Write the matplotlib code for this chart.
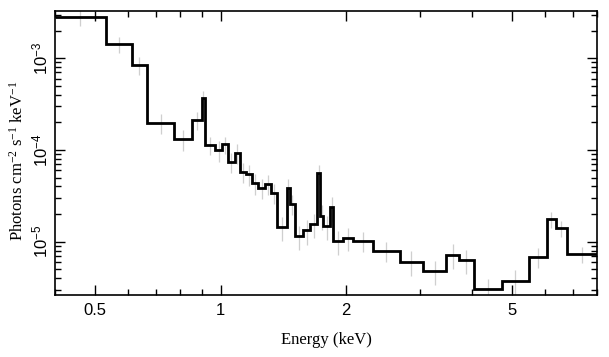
import numpy as np
import matplotlib
matplotlib.use("Agg")
import matplotlib.pyplot as plt
from matplotlib.ticker import FixedLocator, NullFormatter, LogLocator

# bin edges (keV) and unfolded flux per bin (photons cm^-2 s^-1 keV^-1)
edges = [0.40, 0.529, 0.611, 0.664, 0.774, 0.855, 0.900, 0.917, 0.969, 1.008,
         1.039, 1.080, 1.113, 1.148, 1.189, 1.231, 1.275, 1.318, 1.365, 1.442,
         1.464, 1.505, 1.579, 1.641, 1.702, 1.735, 1.761, 1.828, 1.861, 1.965,
         2.075, 2.319, 2.687, 3.056, 3.477, 3.728, 4.050, 4.727, 5.488, 6.060,
         6.361, 6.768, 8.0]
flux = [2.84e-3, 1.43e-3, 8.45e-4, 1.99e-4, 1.31e-4, 2.12e-4, 3.69e-4, 1.135e-4,
        9.93e-5, 1.148e-4, 7.40e-5, 9.27e-5, 5.75e-5, 5.43e-5, 4.33e-5, 3.88e-5,
        4.26e-5, 3.42e-5, 1.445e-5, 3.82e-5, 2.58e-5, 1.153e-5, 1.33e-5, 1.56e-5,
        5.54e-5, 1.915e-5, 1.48e-5, 2.37e-5, 1.018e-5, 1.106e-5, 1.018e-5, 7.92e-6,
        6.05e-6, 4.79e-6, 7.21e-6, 6.27e-6, 3.03e-6, 3.76e-6, 6.86e-6, 1.755e-5,
        1.40e-5, 7.29e-6]
# fractional 1-sigma errors (rough)
err = [0.20, 0.20, 0.22, 0.25, 0.25, 0.22, 0.20, 0.22, 0.25, 0.22,
       0.25, 0.25, 0.25, 0.25, 0.25, 0.25, 0.25, 0.25, 0.30, 0.25,
       0.25, 0.30, 0.30, 0.30, 0.25, 0.30, 0.30, 0.30, 0.30, 0.28,
       0.25, 0.25, 0.30, 0.30, 0.30, 0.30, 0.30, 0.30, 0.25, 0.20,
       0.20, 0.20]

xticks = [0.5, 1, 2, 5]
xticklabels = ["0.5", "1", "2", "5"]
yticks = [1e-5, 1e-4, 1e-3]
yticklabels = [r"$\mathsf{10^{-5}}$", r"$\mathsf{10^{-4}}$", r"$\mathsf{10^{-3}}$"]

plt.rcParams["mathtext.fontset"] = "custom"
plt.rcParams["mathtext.rm"] = "Liberation Serif"
plt.rcParams["mathtext.it"] = "Liberation Serif:italic"
plt.rcParams["mathtext.sf"] = "Liberation Sans"
plt.rcParams["font.family"] = ["Liberation Sans", "DejaVu Sans"]

fig = plt.figure(figsize=(6.09, 3.57), dpi=100)
ax = fig.add_axes([55 / 609, 1 - 295 / 357, (597 - 55) / 609, (295 - 11) / 357])

e = np.array(edges)
f = np.array(flux)
centers = np.sqrt(e[:-1] * e[1:])
lo = f * np.array(err)
hi = f * np.array(err)

ax.errorbar(centers, f, yerr=[lo, hi], fmt="none", ecolor="#cfcfcf", elinewidth=0.9, zorder=1)
ax.stairs(f, e, color="black", linewidth=2.0, baseline=None, zorder=2)

ax.set_xscale("log")
ax.set_yscale("log")
ax.set_xlim(0.4, 8.0)
ax.set_ylim(2.62e-6, 3.28e-3)

ax.xaxis.set_major_locator(FixedLocator(xticks))
ax.set_xticklabels(xticklabels)
ax.xaxis.set_minor_locator(FixedLocator([0.4, 0.6, 0.7, 0.8, 0.9, 3, 4, 6, 7, 8]))
ax.xaxis.set_minor_formatter(NullFormatter())
ax.yaxis.set_major_locator(FixedLocator(yticks))
ax.set_yticklabels(yticklabels, rotation=90, va="center")
ax.yaxis.set_minor_locator(LogLocator(base=10, subs=np.arange(2, 10)))
ax.yaxis.set_minor_formatter(NullFormatter())

ax.tick_params(which="both", direction="in", top=True, right=True, width=1.0, labelsize=12)
ax.tick_params(which="major", length=7)
ax.tick_params(which="minor", length=4)
ax.tick_params(axis="x", pad=6)
ax.tick_params(axis="y", pad=3)
for s in ax.spines.values():
    s.set_linewidth(1.2)

serif = ["Liberation Serif", "DejaVu Serif"]
ax.set_xlabel("Energy (keV)", family=serif, fontsize=12, labelpad=10)
ax.set_ylabel(r"Photons cm$^{-2}$ s$^{-1}$ keV$^{-1}$", family=serif, fontsize=12)
ax.yaxis.set_label_coords(-0.052, 0.472)

fig.savefig("out.png", dpi=100)
